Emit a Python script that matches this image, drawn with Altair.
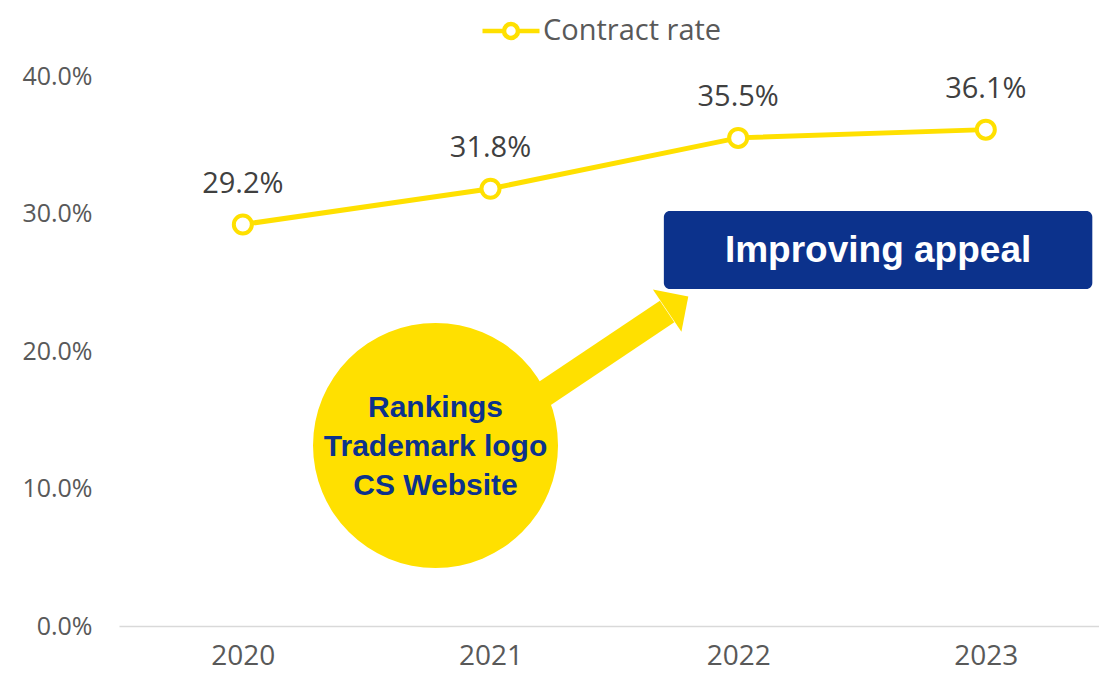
import altair as alt
import pandas as pd

# ---- chart data ----
years = [2020, 2021, 2022, 2023]
contract_rate = [0.292, 0.318, 0.355, 0.361]
series_name = ["Contract rate"] * 4
y_ticks = [0.0, 0.1, 0.2, 0.3, 0.4]

# ---- annotation content (data coordinates) ----
box_text = ["Improving appeal"]
box_x = [2021.70]
box_x2 = [2023.43]
box_y = [0.3018]
box_y2 = [0.2451]
box_text_x = [2022.565]
box_text_y = [0.2727]

bubble_lines = ["Rankings", "Trademark logo", "CS Website"]
bubble_x = [2020.778]
bubble_y = [0.1313]
bubble_line_x = [2020.778, 2020.778, 2020.778]
bubble_line_y = [0.1585, 0.1302, 0.1018]

shaft_x = [2021.038]
shaft_y = [0.1472]
shaft_x2 = [2021.713]
shaft_y2 = [0.2287]
head_x = [2021.756]
head_y = [0.2345]

YELLOW = "#FFE000"
NAVY = "#0C328C"
GRAY = "#595959"

df = pd.DataFrame({"year": years, "rate": contract_rate, "series": series_name})
box_df = pd.DataFrame({"x": box_x, "x2": box_x2, "y": box_y, "y2": box_y2})
box_txt_df = pd.DataFrame({"x": box_text_x, "y": box_text_y, "t": box_text})
bubble_df = pd.DataFrame({"x": bubble_x, "y": bubble_y})
bubble_txt_df = pd.DataFrame({"x": bubble_line_x, "y": bubble_line_y, "t": bubble_lines})
shaft_df = pd.DataFrame({"x": shaft_x, "y": shaft_y, "x2": shaft_x2, "y2": shaft_y2})
head_df = pd.DataFrame({"x": head_x, "y": head_y})

x_scale = alt.Scale(domain=[2019.5, 2023.457], nice=False, zero=False)
y_scale = alt.Scale(domain=[0, 0.4], nice=False)

x_axis = alt.Axis(values=years, format="d", grid=False, ticks=False,
                  domainColor="#D9D9D9", domainWidth=1.5,
                  labelFont="Open Sans", labelFontSize=28, labelColor=GRAY,
                  labelPadding=16)
y_axis = alt.Axis(values=y_ticks, format=".1%", grid=False, ticks=False,
                  domain=False, labelFont="Open Sans", labelFontSize=25,
                  labelColor=GRAY, labelPadding=27)

legend_path = ("M-1,0H-0.245M0.245,0H1M0.245,0A0.245,0.245,0,1,1,-0.245,0"
               "A0.245,0.245,0,1,1,0.245,0Z")

shaft = alt.Chart(shaft_df).mark_rule(strokeWidth=26, color=YELLOW, strokeCap="butt").encode(
    x=alt.X("x:Q", scale=x_scale, axis=x_axis, title=None),
    y=alt.Y("y:Q", scale=y_scale, axis=y_axis, title=None),
    x2="x2:Q", y2="y2:Q")

head = alt.Chart(head_df).mark_point(shape="M-1,0.5L0,-0.5L1,0.5Z", filled=True,
                                     fill=YELLOW, strokeWidth=0, size=2601,
                                     angle=56, opacity=1).encode(
    x=alt.X("x:Q", title=None), y=alt.Y("y:Q", title=None))

bubble = alt.Chart(bubble_df).mark_point(shape="circle", filled=True, fill=YELLOW,
                                         strokeWidth=0, size=60025, opacity=1).encode(
    x=alt.X("x:Q", title=None), y=alt.Y("y:Q", title=None))

bubble_txt = alt.Chart(bubble_txt_df).mark_text(font="Liberation Sans", fontWeight="bold",
                                                fontSize=30, color=NAVY,
                                                baseline="middle").encode(
    x=alt.X("x:Q", title=None), y=alt.Y("y:Q", title=None), text="t:N")

box = alt.Chart(box_df).mark_rect(cornerRadius=6, color=NAVY).encode(
    x=alt.X("x:Q", title=None), x2="x2:Q", y=alt.Y("y:Q", title=None), y2="y2:Q")

box_txt = alt.Chart(box_txt_df).mark_text(font="Liberation Sans", fontWeight="bold",
                                          fontSize=37, color="white",
                                          baseline="middle").encode(
    x=alt.X("x:Q", title=None), y=alt.Y("y:Q", title=None), text="t:N")

line = alt.Chart(df).mark_line(strokeWidth=5).encode(
    x=alt.X("year:Q", title=None),
    y=alt.Y("rate:Q", title=None),
    color=alt.Color("series:N", scale=alt.Scale(range=[YELLOW]),
                    legend=alt.Legend(title=None, orient="none", legendX=361, legendY=-76,
                                      symbolType=legend_path, symbolSize=3249,
                                      symbolStrokeWidth=4.5, symbolFillColor="white",
                                      symbolStrokeColor=YELLOW,
                                      labelFont="Open Sans", labelFontSize=29,
                                      labelColor=GRAY, labelOffset=1, labelLimit=400,
                                      padding=0)))

points = alt.Chart(df).mark_point(shape="circle", filled=True, fill="white", stroke=YELLOW,
                                  strokeWidth=4, size=324, opacity=1).encode(
    x=alt.X("year:Q", title=None), y=alt.Y("rate:Q", title=None))

labels = alt.Chart(df).mark_text(font="Open Sans", fontSize=29, color="#404040",
                                 dy=-41, baseline="middle").encode(
    x=alt.X("year:Q", title=None), y=alt.Y("rate:Q", title=None),
    text=alt.Text("rate:Q", format=".1%"))

chart = alt.layer(shaft, head, bubble, bubble_txt, box, box_txt, line, points, labels).properties(
    width=980, height=550,
    padding={"left": 111, "top": 68, "right": 0, "bottom": 46},
    autosize=alt.AutoSizeParams(type="none"),
).configure_view(strokeWidth=0)

chart.save("out.html", embed_options={"renderer": "svg", "actions": False})
